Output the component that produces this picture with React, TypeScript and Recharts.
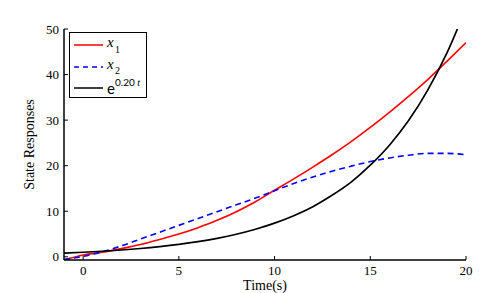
import React from 'react';
import { LineChart, Line, XAxis, YAxis, Legend } from 'recharts';

const timeSteps = [-1, 0, 1, 2, 3, 4, 5, 6, 7, 8, 9, 10, 11, 12, 13, 14, 15, 16, 17, 18, 19, 20];
const x1Values = [-0.7, 0.4, 1.0, 1.8, 2.7, 3.8, 5.0, 6.4, 8.0, 9.9, 12.1, 14.6, 17.1, 19.7, 22.4, 25.3, 28.4, 31.7, 35.2, 38.9, 42.9, 47.0];
const x2Values = [-0.6, 0.1, 1.1, 2.4, 3.9, 5.4, 6.9, 8.4, 9.9, 11.4, 12.9, 14.5, 16.1, 17.5, 18.8, 19.9, 20.9, 21.7, 22.3, 22.7, 22.7, 22.4];
const expValues = [0.82, 1.0, 1.22, 1.49, 1.82, 2.23, 2.72, 3.32, 4.06, 4.95, 6.05, 7.39, 9.03, 11.0, 13.5, 16.4, 20.1, 24.5, 29.9, 36.6, 44.7, 54.6];

const xTicks = [0, 5, 10, 15, 20];
const yTicks = [0, 10, 20, 30, 40, 50];

const chartData = timeSteps.map((t, i) => ({ t, x1: x1Values[i], x2: x2Values[i], e: expValues[i] }));

const serif = '"Liberation Serif", "Times New Roman", serif';
const tickFont = { fontFamily: serif, fontSize: 13, fill: '#000' };

const NoTick = () => <g />;

const LegendBox = () => (
  <div
    style={{
      width: 78,
      height: 66,
      border: '1px solid #000',
      background: '#fff',
      boxSizing: 'border-box',
      position: 'relative',
      color: '#000',
    }}
  >
    <svg width={78} height={66} style={{ position: 'absolute', left: -1, top: -1 }}>
      <line x1={5} x2={34} y1={13} y2={13} stroke="#ff0000" strokeWidth={1.5} />
      <line x1={5} x2={34} y1={35} y2={35} stroke="#0000ff" strokeWidth={1.5} strokeDasharray="5 4" />
      <line x1={5} x2={34} y1={56} y2={56} stroke="#000" strokeWidth={1.5} />
      <text x={38} y={15} fontSize={15} fontStyle="italic" fontFamily={serif}>x</text>
      <text x={46} y={21} fontSize={10} fontFamily={serif}>1</text>
      <text x={38} y={37} fontSize={15} fontStyle="italic" fontFamily={serif}>x</text>
      <text x={46} y={42} fontSize={10} fontFamily={serif}>2</text>
      <text x={38} y={62} fontSize={15} fontFamily="Lato, sans-serif">e</text>
      <text x={46} y={54} fontSize={10} fontFamily="Lato, sans-serif">0.20 <tspan fontStyle="italic" fontFamily={serif}>t</tspan></text>
    </svg>
  </div>
);

export default function App() {
  return (
    <LineChart
      width={486}
      height={285}
      data={chartData}
      margin={{ top: 21, right: 28, left: 16, bottom: 0 }}
    >
      <XAxis
        xAxisId="bottom"
        dataKey="t"
        type="number"
        domain={[-1, 20]}
        ticks={xTicks}
        height={33}
        allowDataOverflow
        stroke="#000"
        axisLine={{ stroke: '#000', strokeWidth: 1.5 }}
        tickLine={{ stroke: '#000' }}
        tickSize={-4}
        tickMargin={10}
        tick={tickFont}
        label={{ value: 'Time(s)', position: 'insideBottom', offset: 3, style: { fontFamily: serif, fontSize: 14, fill: '#000' } }}
      />
      <XAxis
        xAxisId="top"
        dataKey="t"
        type="number"
        orientation="top"
        domain={[-1, 20]}
        ticks={xTicks}
        height={0}
        allowDataOverflow
        axisLine={{ stroke: '#000', strokeWidth: 1 }}
        tickLine={{ stroke: '#000' }}
        tickSize={-4}
        tick={NoTick}
      />
      <YAxis
        yAxisId="left"
        type="number"
        domain={[-0.7, 50]}
        ticks={yTicks}
        width={40}
        allowDataOverflow
        axisLine={{ stroke: '#000', strokeWidth: 1.5 }}
        tickLine={{ stroke: '#000' }}
        tickSize={-4}
        tickMargin={9}
        tick={tickFont}
        label={{ value: 'State Responses', angle: -90, position: 'insideLeft', offset: 5, style: { fontFamily: serif, fontSize: 14, fill: '#000', textAnchor: 'middle' } }}
      />
      <YAxis
        yAxisId="right"
        type="number"
        orientation="right"
        domain={[-0.7, 50]}
        ticks={yTicks}
        width={0}
        allowDataOverflow
        axisLine={{ stroke: '#000', strokeWidth: 1.5 }}
        tickLine={{ stroke: '#000' }}
        tickSize={-4}
        tick={NoTick}
      />
      <Legend
        content={<LegendBox />}
        layout="horizontal"
        verticalAlign="middle"
        align="center"
        wrapperStyle={{ left: 61, top: 24, width: 78, height: 66 }}
      />
      <Line xAxisId="bottom" yAxisId="left" type="monotone" dataKey="x1" stroke="#ff0000" strokeWidth={1.6} dot={false} isAnimationActive={false} />
      <Line xAxisId="bottom" yAxisId="left" type="monotone" dataKey="x2" stroke="#0000ff" strokeWidth={1.6} strokeDasharray="6 4" dot={false} isAnimationActive={false} />
      <Line xAxisId="bottom" yAxisId="left" type="monotone" dataKey="e" stroke="#000" strokeWidth={1.7} dot={false} isAnimationActive={false} />
    </LineChart>
  );
}
